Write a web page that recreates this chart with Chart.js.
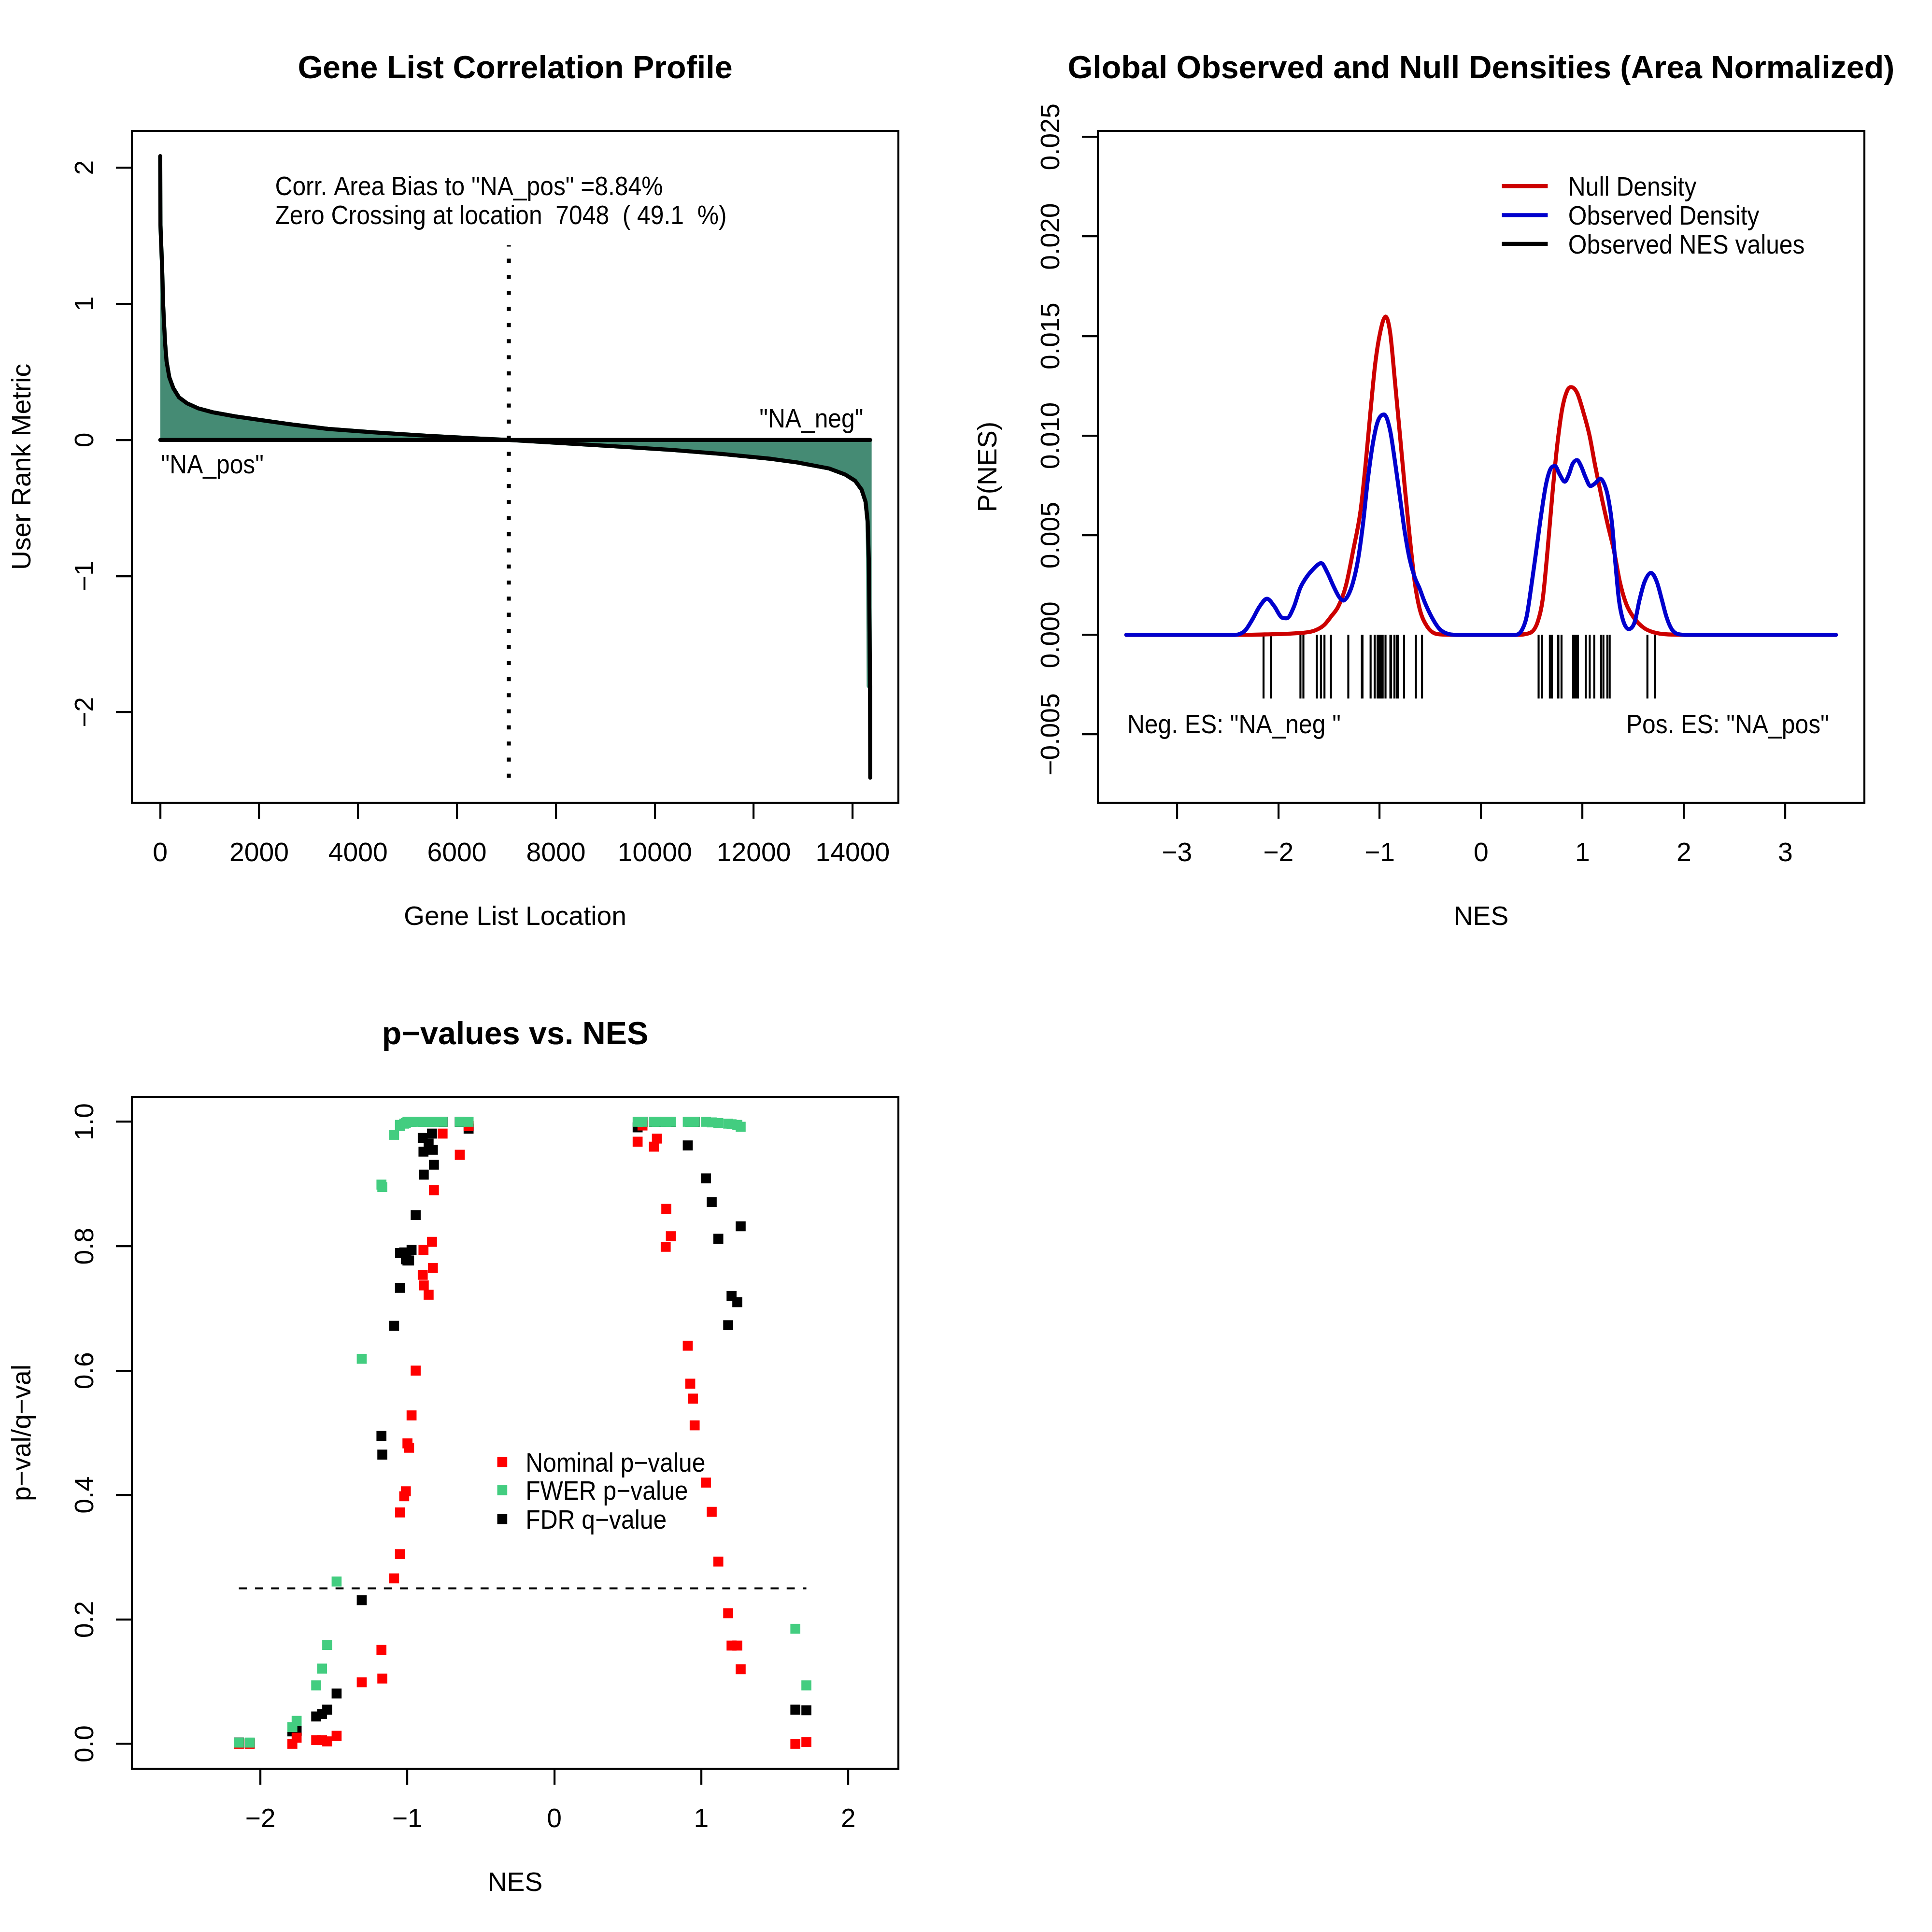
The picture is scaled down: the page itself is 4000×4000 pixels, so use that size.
<!DOCTYPE html>
<html>
<head>
<meta charset="utf-8">
<script src="https://cdn.jsdelivr.net/npm/chart.js@4.4.1/dist/chart.umd.min.js"></script>
<style>
html, body { margin: 0; padding: 0; background: #ffffff; }
#wrap { position: relative; width: 4000px; height: 4000px; background: #ffffff; }
canvas { position: absolute; }
</style>
</head>
<body>
<div id="wrap">
  <canvas id="c1" width="2000" height="2000" style="left:0px;top:0px;width:2000px;height:2000px"></canvas>
  <canvas id="c2" width="2000" height="2000" style="left:2000px;top:0px;width:2000px;height:2000px"></canvas>
  <canvas id="c3" width="2000" height="2000" style="left:0px;top:2000px;width:2000px;height:2000px"></canvas>
</div>
<script>
// ---------------- DATA ----------------
// Panel 1: gene list correlation profile (ranked metric line)
const rankX = [1, 5, 37, 60, 79, 102, 128, 184, 265, 379, 542, 769, 1062, 1518, 1974, 2625, 3388, 4385, 5381, 6377, 7048, 7871, 9366, 10362, 11359, 12355, 12878, 13529, 13854, 14050, 14179, 14261, 14303, 14326, 14342, 14350, 14355];
const rankMetric = [2.085, 1.578, 1.284, 0.990, 0.843, 0.696, 0.578, 0.460, 0.380, 0.313, 0.269, 0.232, 0.203, 0.173, 0.149, 0.115, 0.081, 0.054, 0.031, 0.011, 0.0, -0.018, -0.051, -0.074, -0.103, -0.139, -0.165, -0.210, -0.255, -0.300, -0.364, -0.454, -0.599, -0.870, -1.413, -1.808, -2.481];
// Panel 1: outline of the shaded area (it stops at about -1.81 at the right end)
const areaX = [1, 5, 37, 60, 79, 102, 128, 184, 265, 379, 542, 769, 1062, 1518, 1974, 2625, 3388, 4385, 5381, 6377, 7048, 7871, 9366, 10362, 11359, 12355, 12878, 13529, 13854, 14050, 14179, 14261, 14300, 14312, 14320, 14324, 14385];
const areaY = [2.085, 1.578, 1.284, 0.990, 0.843, 0.696, 0.578, 0.460, 0.380, 0.313, 0.269, 0.232, 0.203, 0.173, 0.149, 0.115, 0.081, 0.054, 0.031, 0.011, 0.0, -0.018, -0.051, -0.074, -0.103, -0.139, -0.165, -0.210, -0.255, -0.300, -0.364, -0.454, -0.599, -0.870, -1.413, -1.808, -1.808];
const geneCount = 14355;
const zeroCrossing = 7048;
const zeroCrossTop = 1.43;
const p1XTicks = [0, 2000, 4000, 6000, 8000, 10000, 12000, 14000];
const p1XLabels = ["0", "2000", "4000", "6000", "8000", "10000", "12000", "14000"];
const p1YTicks = [-2, -1, 0, 1, 2];
const p1YLabels = ["\u22122", "\u22121", "0", "1", "2"];

// Panel 2: densities
const nullX = [-3.5, -2.33, -2.136, -1.845, -1.65, -1.553, -1.48, -1.408, -1.335, -1.262, -1.189, -1.141, -1.092, -1.044, -0.995, -0.942, -0.898, -0.85, -0.801, -0.752, -0.704, -0.655, -0.607, -0.534, -0.437, -0.29,
  0.34, 0.485, 0.558, 0.607, 0.655, 0.704, 0.752, 0.801, 0.85, 0.888, 0.947, 1.01, 1.068, 1.126, 1.189, 1.248, 1.311, 1.369, 1.432, 1.505, 1.602, 1.699, 1.845, 2.04, 3.5];
const nullDens = [0, 0, 0.00002, 0.00007, 0.0002, 0.00047, 0.00092, 0.00143, 0.00244, 0.00423, 0.00624, 0.00848, 0.01117, 0.01363, 0.0152, 0.01598, 0.0152, 0.01273, 0.01005, 0.00736, 0.0049, 0.00266, 0.00132, 0.00043, 0.00004, 0,
  0, 0.0001, 0.00065, 0.00177, 0.00423, 0.00713, 0.00958, 0.01138, 0.01227, 0.01244, 0.01215, 0.01115, 0.01003, 0.00846, 0.00689, 0.00555, 0.00421, 0.00264, 0.00154, 0.00087, 0.00036, 0.00013, 0.00002, 0, 0];
const obsX = [-3.5, -2.427, -2.33, -2.257, -2.184, -2.112, -2.039, -1.966, -1.917, -1.845, -1.786, -1.723, -1.65, -1.578, -1.515, -1.456, -1.398, -1.359, -1.311, -1.262, -1.214, -1.165, -1.117, -1.068, -1.019, -0.956, -0.898, -0.85, -0.801, -0.752, -0.704, -0.655, -0.607, -0.558, -0.485, -0.413, -0.34, -0.243,
  0.34, 0.398, 0.447, 0.495, 0.544, 0.592, 0.641, 0.689, 0.728, 0.777, 0.825, 0.864, 0.903, 0.947, 0.985, 1.029, 1.078, 1.126, 1.175, 1.214, 1.252, 1.291, 1.325, 1.359, 1.398, 1.456, 1.515, 1.563, 1.612, 1.675, 1.733, 1.782, 1.83, 1.879, 1.942, 2.039, 3.5];
const obsDens = [0, 0, 0.0002, 0.00076, 0.00143, 0.00181, 0.00143, 0.00087, 0.00083, 0.00143, 0.00233, 0.00289, 0.00333, 0.0036, 0.00311, 0.00244, 0.00188, 0.00172, 0.00199, 0.00266, 0.00378, 0.00557, 0.00781, 0.0096, 0.01072, 0.01106, 0.01027, 0.00871, 0.00692, 0.00513, 0.00378, 0.00289, 0.00233, 0.00166, 0.00087, 0.00031, 0.00007, 0,
  0, 0.0002, 0.00087, 0.00244, 0.00423, 0.00602, 0.00758, 0.00837, 0.00848, 0.00803, 0.00769, 0.00803, 0.00859, 0.00877, 0.00848, 0.00792, 0.00747, 0.00761, 0.00784, 0.00758, 0.00691, 0.00557, 0.00356, 0.00177, 0.00076, 0.00029, 0.00065, 0.00177, 0.00266, 0.00311, 0.00266, 0.00177, 0.00087, 0.00029, 0.00004, 0, 0];
const rugBottom = -0.0032;
const p2XTicks = [-3, -2, -1, 0, 1, 2, 3];
const p2XLabels = ["\u22123", "\u22122", "\u22121", "0", "1", "2", "3"];
const p2YTicks = [-0.005, 0, 0.005, 0.01, 0.015, 0.02, 0.025];
const p2YLabels = ["\u22120.005", "0.000", "0.005", "0.010", "0.015", "0.020", "0.025"];

// Panel 3: p-values vs NES (one entry per gene set)
const nes = [-2.146, -2.072, -1.782, -1.753, -1.620, -1.580, -1.545, -1.481, -1.310, -1.176,
  -1.170, -1.090, -1.050, -1.049, -1.021, -1.010, -0.999, -0.988, -0.971, -0.943,
  -0.895, -0.890, -0.888, -0.855, -0.832, -0.826, -0.819, -0.760, -0.643, -0.583,
  0.567, 0.600, 0.678, 0.698, 0.758, 0.762, 0.793, 0.908, 0.925, 0.943,
  0.955, 1.032, 1.071, 1.116, 1.183, 1.206, 1.245, 1.268, 1.640, 1.715];
const nominalP = [0.000, 0.000, 0.000, 0.010, 0.006, 0.006, 0.004, 0.013, 0.099, 0.151,
  0.105, 0.266, 0.305, 0.372, 0.398, 0.406, 0.483, 0.476, 0.528, 0.600,
  0.754, 0.794, 0.737, 0.722, 0.807, 0.765, 0.890, 0.981, 0.947, 0.993,
  0.968, 0.994, 0.960, 0.973, 0.799, 0.860, 0.816, 0.640, 0.579, 0.555,
  0.512, 0.420, 0.373, 0.293, 0.210, 0.158, 0.158, 0.120, 0.000, 0.003];
const fwerP = [0.002, 0.002, 0.027, 0.037, 0.094, 0.121, 0.159, 0.261, 0.619, 0.899,
  0.895, 0.979, 0.993, 0.995, 0.997, 0.998, 1.000, 1.000, 1.000, 1.000,
  1.000, 1.000, 1.000, 1.000, 1.000, 1.000, 1.000, 1.000, 1.000, 1.000,
  1.000, 1.000, 1.000, 1.000, 1.000, 1.000, 1.000, 1.000, 1.000, 1.000,
  1.000, 1.000, 0.999, 0.998, 0.997, 0.996, 0.995, 0.992, 0.185, 0.094];
const fdrQ = [0.002, 0.001, 0.020, 0.021, 0.044, 0.048, 0.055, 0.081, 0.231, 0.495,
  0.465, 0.672, 0.733, 0.789, 0.790, 0.779, 0.777, 0.777, 0.794, 0.850,
  0.974, 0.952, 0.915, 0.965, 0.981, 0.955, 0.931, 1.000, 1.000, 0.989,
  0.991, 1.000, 1.000, 1.000, 1.000, 1.000, 1.000, 0.962, 1.000, 1.000,
  1.000, 0.909, 0.871, 0.812, 0.673, 0.720, 0.710, 0.832, 0.055, 0.054];
const threshold = 0.25;
const p3XTicks = [-2, -1, 0, 1, 2];
const p3XLabels = ["\u22122", "\u22121", "0", "1", "2"];
const p3YTicks = [0, 0.2, 0.4, 0.6, 0.8, 1.0];
const p3YLabels = ["0.0", "0.2", "0.4", "0.6", "0.8", "1.0"];

// ---------------- STYLE ----------------
const FONT = '"Liberation Sans", Arial, Helvetica, sans-serif';
const FS = 55.3;      // normal text px
const TS = 66.4;      // title px
const NARROW = 0.9;   // horizontal squeeze of in-plot annotation / legend text
const LW = 4.17;      // lwd 1
const LW2 = 8.33;     // lwd 2
const CAP = 0.358;    // half cap height ratio
const PAD = { left: 273, right: 140, top: 271, bottom: 338 };
const C_AQUA = '#458B74', C_RED3 = '#CD0000', C_BLUE3 = '#0000CD';
const C_RED = '#FF0000', C_GREEN = '#43CD80', C_BLACK = '#000000';

function pts(xs, ys) { return xs.map((x, i) => ({ x: x, y: ys[i] })); }

function scaleCfg(min, max, tickVals, position) {
  return {
    type: 'linear', position: position, min: min, max: max,
    afterBuildTicks: (s) => { s.ticks = tickVals.map(v => ({ value: v })); },
    afterFit: (s) => { if (position === 'bottom') s.height = 0; else s.width = 0; },
    grid: { drawOnChartArea: false, drawTicks: true, tickLength: 33, lineWidth: LW, color: '#000' },
    border: { display: false },
    ticks: { display: false, autoSkip: false }
  };
}

function decor(spec) {
  return {
    id: 'decor_' + spec.name,
    afterDraw(chart) {
      const ctx = chart.ctx, a = chart.chartArea;
      const xs = chart.scales.x, ys = chart.scales.y;
      ctx.save();
      ctx.fillStyle = '#000'; ctx.strokeStyle = '#000';
      ctx.lineWidth = LW;
      ctx.strokeRect(a.left, a.top, a.right - a.left, a.bottom - a.top);
      ctx.font = FS + 'px ' + FONT;
      ctx.textAlign = 'center'; ctx.textBaseline = 'alphabetic';
      xs.ticks.forEach((t, i) => ctx.fillText(spec.xLabels[i], xs.getPixelForValue(t.value), a.bottom + 121));
      ys.ticks.forEach((t, i) => {
        ctx.save(); ctx.translate(a.left - 80, ys.getPixelForValue(t.value)); ctx.rotate(-Math.PI / 2);
        ctx.fillText(spec.yLabels[i], 0, 0); ctx.restore();
      });
      ctx.fillText(spec.xTitle, (a.left + a.right) / 2, a.bottom + 253);
      ctx.save(); ctx.translate(63, (a.top + a.bottom) / 2); ctx.rotate(-Math.PI / 2);
      ctx.fillText(spec.yTitle, 0, 0); ctx.restore();
      ctx.font = 'bold ' + TS + 'px ' + FONT;
      ctx.fillText(spec.title, (a.left + a.right) / 2, a.top - 109.4);
      ctx.font = FS + 'px ' + FONT;
      if (spec.extra) spec.extra(ctx, xs, ys, a);
      ctx.restore();
    }
  };
}

// narrow in-plot text, vertically centred on cap height
function txt(ctx, s, px, pyCenter, align) {
  ctx.save();
  ctx.translate(px, pyCenter + CAP * FS);
  ctx.scale(NARROW, 1);
  ctx.textAlign = align;
  ctx.fillText(s, 0, 0);
  ctx.restore();
}

const baseOpts = {
  responsive: false, maintainAspectRatio: false, animation: false, devicePixelRatio: 1, events: [],
  layout: { padding: PAD },
  plugins: { legend: { display: false }, tooltip: { enabled: false }, title: { display: false } },
  elements: { point: { radius: 0 }, line: { tension: 0 } }
};
function opts(scales) { return Object.assign({}, baseOpts, { scales: scales }); }

// ---------------- PANEL 1 ----------------
new Chart(document.getElementById('c1'), {
  type: 'line',
  data: {
    datasets: [
      { data: [{ x: zeroCrossing, y: Math.min(...rankMetric) }, { x: zeroCrossing, y: zeroCrossTop }],
        borderColor: C_BLACK, borderWidth: LW2, borderDash: [LW2, 3 * LW2], borderCapStyle: 'butt', pointRadius: 0, order: 0 },
      { data: [{ x: 1, y: 0 }, { x: geneCount, y: 0 }],
        borderColor: C_BLACK, borderWidth: LW2, borderCapStyle: 'round', pointRadius: 0, order: 1 },
      { data: pts(rankX, rankMetric),
        borderColor: C_BLACK, borderWidth: LW2, borderCapStyle: 'round', borderJoinStyle: 'round', pointRadius: 0, order: 2 },
      { data: pts(areaX, areaY),
        borderColor: C_AQUA, backgroundColor: C_AQUA, borderWidth: LW2, borderJoinStyle: 'round', fill: 'origin', pointRadius: 0, order: 3 }
    ]
  },
  options: opts({ x: scaleCfg(-573, 14924, p1XTicks, 'bottom'), y: scaleCfg(-2.665, 2.27, p1YTicks, 'left') }),
  plugins: [decor({
    name: 'p1', xLabels: p1XLabels, yLabels: p1YLabels,
    title: 'Gene List Correlation Profile', xTitle: 'Gene List Location', yTitle: 'User Rank Metric',
    extra: (ctx, xs, ys, a) => {
      txt(ctx, 'Corr. Area Bias to "NA_pos" =8.84%', xs.getPixelForValue(2322), ys.getPixelForValue(1.868), 'left');
      txt(ctx, 'Zero Crossing at location  7048  ( 49.1  %)', xs.getPixelForValue(2322), ys.getPixelForValue(1.655), 'left');
      txt(ctx, '"NA_pos"', xs.getPixelForValue(18), ys.getPixelForValue(-0.175), 'left');
      txt(ctx, '"NA_neg"', xs.getPixelForValue(14215), ys.getPixelForValue(0.162), 'right');
    }
  })]
});

// ---------------- PANEL 2 ----------------
const rugPts = [];
nes.forEach(v => { rugPts.push({ x: v, y: 0 }, { x: v, y: rugBottom }, { x: v, y: null }); });

new Chart(document.getElementById('c2'), {
  type: 'line',
  data: {
    datasets: [
      { data: pts(obsX, obsDens), borderColor: C_BLUE3, borderWidth: LW2, cubicInterpolationMode: 'monotone',
        borderCapStyle: 'round', borderJoinStyle: 'round', pointRadius: 0, order: 0 },
      { data: pts(nullX, nullDens), borderColor: C_RED3, borderWidth: LW2, cubicInterpolationMode: 'monotone',
        borderCapStyle: 'round', borderJoinStyle: 'round', pointRadius: 0, order: 1 },
      { data: rugPts, borderColor: C_BLACK, borderWidth: LW, borderCapStyle: 'butt', spanGaps: false, pointRadius: 0, order: 2 }
    ]
  },
  options: opts({ x: scaleCfg(-3.78, 3.78, p2XTicks, 'bottom'), y: scaleCfg(-0.00843, 0.0253, p2YTicks, 'left') }),
  plugins: [decor({
    name: 'p2', xLabels: p2XLabels, yLabels: p2YLabels,
    title: 'Global Observed and Null Densities (Area Normalized)', xTitle: 'NES', yTitle: 'P(NES)',
    extra: (ctx, xs, ys, a) => {
      txt(ctx, 'Neg. ES: "NA_neg "', xs.getPixelForValue(-3.49), ys.getPixelForValue(-0.00446), 'left');
      txt(ctx, 'Pos. ES: "NA_pos"', xs.getPixelForValue(3.431), ys.getPixelForValue(-0.00446), 'right');
      const items = [['Null Density', C_RED3, 0.02253], ['Observed Density', C_BLUE3, 0.02107], ['Observed NES values', C_BLACK, 0.01963]];
      items.forEach(it => {
        const y = ys.getPixelForValue(it[2]);
        ctx.strokeStyle = it[1]; ctx.lineWidth = LW2; ctx.lineCap = 'butt';
        ctx.beginPath(); ctx.moveTo(xs.getPixelForValue(0.205), y); ctx.lineTo(xs.getPixelForValue(0.657), y); ctx.stroke();
        ctx.fillStyle = '#000';
        txt(ctx, it[0], xs.getPixelForValue(0.859), y, 'left');
      });
    }
  })]
});

// ---------------- PANEL 3 ----------------
const MR = 14.6;
function ptSet(vals, color, ord) {
  return { data: pts(nes, vals), showLine: false, pointStyle: 'rect', pointRadius: MR, pointBorderWidth: 0,
    pointBackgroundColor: color, pointBorderColor: color, backgroundColor: color, borderColor: color, order: ord };
}
new Chart(document.getElementById('c3'), {
  type: 'line',
  data: {
    datasets: [
      ptSet(fwerP, C_GREEN, 0),
      ptSet(nominalP, C_RED, 1),
      ptSet(fdrQ, C_BLACK, 2),
      { data: [{ x: Math.min(...nes), y: threshold }, { x: Math.max(...nes), y: threshold }],
        borderColor: C_BLACK, borderWidth: LW, borderDash: [4 * LW, 4 * LW], borderCapStyle: 'butt', pointRadius: 0, order: 3 }
    ]
  },
  options: opts({ x: scaleCfg(-2.874, 2.341, p3XTicks, 'bottom'), y: scaleCfg(-0.04, 1.04, p3YTicks, 'left') }),
  plugins: [decor({
    name: 'p3', xLabels: p3XLabels, yLabels: p3YLabels,
    title: 'p\u2212values vs. NES', xTitle: 'NES', yTitle: 'p\u2212val/q\u2212val',
    extra: (ctx, xs, ys, a) => {
      const items = [['Nominal p\u2212value', C_RED, 0.4531], ['FWER p\u2212value', C_GREEN, 0.4077], ['FDR q\u2212value', C_BLACK, 0.3613]];
      const side = 2 * Math.SQRT1_2 * MR;
      items.forEach(it => {
        const y = ys.getPixelForValue(it[2]);
        const x = xs.getPixelForValue(-0.354);
        ctx.fillStyle = it[1];
        ctx.fillRect(x - side / 2, y - side / 2, side, side);
        ctx.fillStyle = '#000';
        txt(ctx, it[0], xs.getPixelForValue(-0.195), y, 'left');
      });
    }
  })]
});
</script>
</body>
</html>
